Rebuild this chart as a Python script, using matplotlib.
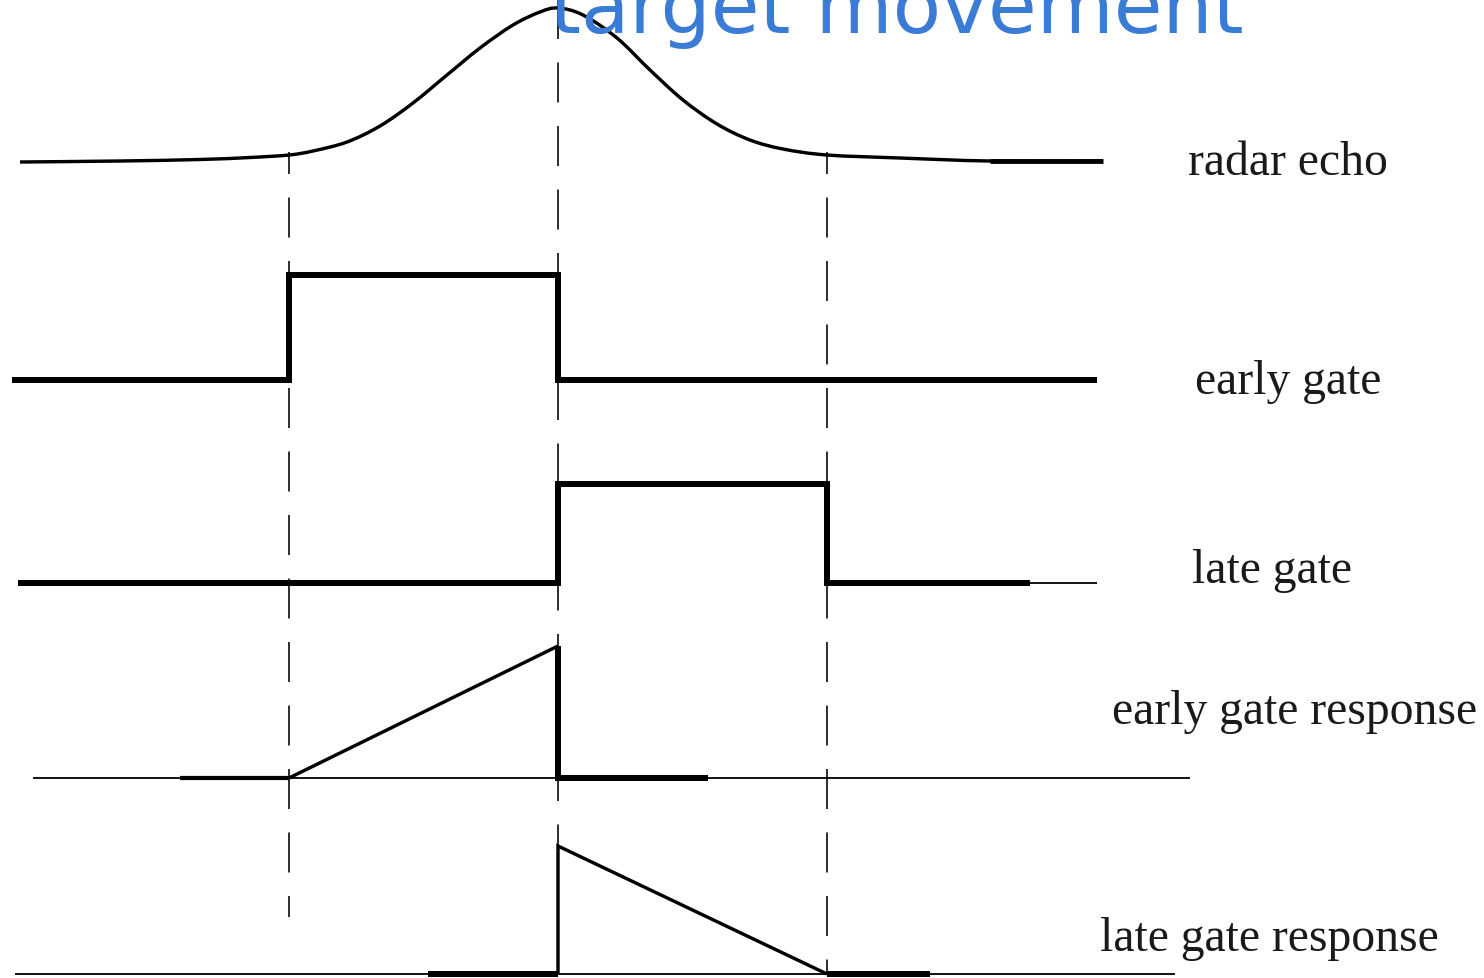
import matplotlib
matplotlib.use("Agg")
import matplotlib.pyplot as plt
from matplotlib.path import Path
from matplotlib.patches import PathPatch

plt.rcParams['lines.scale_dashes'] = False
plt.rcParams['lines.solid_capstyle'] = 'butt'
plt.rcParams['lines.solid_joinstyle'] = 'miter'

# ---- data (horizontal = time, vertical = level) ----
title_text = "target movement"
labels = ["radar echo", "early gate", "late gate", "early gate response", "late gate response"]

# gate boundary times (dashed markers)
gate_times = [289, 558, 827]

# radar echo samples
echo_x = [20, 120, 200, 250, 289, 313, 347, 380, 413, 447, 480, 513, 540, 558,
          583, 617, 650, 683, 717, 750, 783, 827, 900, 990, 1103]
echo_y = [163, 162, 160.5, 158.5, 156, 152, 143, 127, 104, 76, 49, 26, 13, 9,
          16, 39, 71, 101, 125, 141, 150, 156, 159, 162, 162]

# early gate waveform
early_x = [12, 289, 289, 558, 558, 1097]
early_y = [381, 381, 276, 276, 381, 381]

# late gate waveform
late_x = [18, 558, 558, 827, 827, 1030]
late_y = [584, 584, 485, 485, 584, 584]
late_tail_x = [1030, 1097]
late_tail_y = [584, 584]

# early gate response
egr_axis_x = [33, 1190]
egr_axis_y = [779, 779]
egr_x = [180, 289, 558, 558, 708]
egr_y = [779, 779, 647, 779, 779]

# late gate response
lgr_axis_x = [15, 1175]
lgr_axis_y = [975, 975]
lgr_x = [428, 558, 558, 827, 930]
lgr_y = [975, 975, 847, 975, 975]

# ---- figure ----
W, H = 1484, 979
fig = plt.figure(figsize=(W / 100, H / 100), dpi=100)
ax = fig.add_axes([0, 0, 1, 1])
ax.set_xlim(0, W)
ax.set_ylim(H, 0)
ax.axis('off')

k = 'black'
px = 0.72  # points per pixel

# dashed time markers
dash = (40 * px, 23.5 * px)
dash_spans = [(153, 918), (-1, 975), (153, 975)]
dash_offsets = [18 * px, 0, 18 * px]
for t, (y0, y1), off in zip(gate_times, dash_spans, dash_offsets):
    ax.plot([t, t], [y0, y1], color=k, lw=1.6 * px, linestyle=(off, dash))

# radar echo: smooth curve through the read samples (Catmull-Rom as Bezier)
verts = [(echo_x[0], echo_y[0])]
codes = [Path.MOVETO]
n = len(echo_x)
for i in range(n - 1):
    p0 = (echo_x[max(i - 1, 0)], echo_y[max(i - 1, 0)])
    p1 = (echo_x[i], echo_y[i])
    p2 = (echo_x[i + 1], echo_y[i + 1])
    p3 = (echo_x[min(i + 2, n - 1)], echo_y[min(i + 2, n - 1)])
    c1 = (p1[0] + (p2[0] - p0[0]) / 6, p1[1] + (p2[1] - p0[1]) / 6)
    c2 = (p2[0] - (p3[0] - p1[0]) / 6, p2[1] - (p3[1] - p1[1]) / 6)
    verts += [c1, c2, p2]
    codes += [Path.CURVE4] * 3
ax.add_patch(PathPatch(Path(verts, codes), facecolor='none', edgecolor=k,
                       lw=3.4 * px, joinstyle='round', capstyle='butt'))
ax.plot(echo_x[-2:], echo_y[-2:], color=k, lw=4.8 * px)

# early gate
ax.plot(early_x, early_y, color=k, lw=6.0 * px)

# late gate
ax.plot(late_x, late_y, color=k, lw=6.0 * px)
ax.plot(late_tail_x, late_tail_y, color=k, lw=1.8 * px)

# early gate response
ax.plot(egr_axis_x, egr_axis_y, color=k, lw=1.8 * px)
ax.plot(egr_x[:2], egr_y[:2], color=k, lw=4.2 * px)
ax.plot(egr_x[1:3], egr_y[1:3], color=k, lw=3.4 * px)
ax.plot(egr_x[2:], egr_y[2:], color=k, lw=6.0 * px)

# late gate response
ax.plot(lgr_axis_x, lgr_axis_y, color=k, lw=1.8 * px)
ax.plot(lgr_x[:2], lgr_y[:2], color=k, lw=6.0 * px)
ax.plot(lgr_x[1:4], lgr_y[1:4], color=k, lw=3.4 * px)
ax.plot(lgr_x[3:], lgr_y[3:], color=k, lw=6.0 * px)

# labels
label_pos = [(1188, 163), (1195, 382), (1192, 571), (1112, 712), (1100, 939)]
for txt, (x, y) in zip(labels, label_pos):
    ax.text(x, y, txt, family='Liberation Serif', fontsize=34.3,
            color='#1a1a1a', ha='left', va='center')

# title (cut off by top edge)
ax.text(897, 33, title_text, family='DejaVu Sans', fontsize=57,
        color='#3a7bd5', ha='center', va='baseline', clip_on=False)

fig.savefig("out.png", dpi=100)
